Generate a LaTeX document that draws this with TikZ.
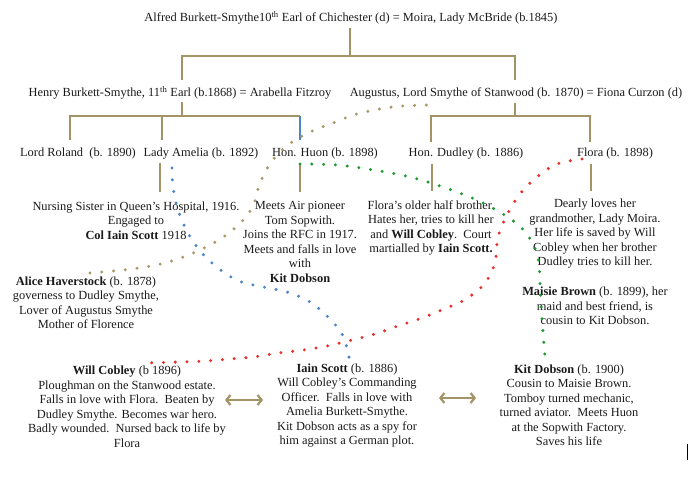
\documentclass[tikz,border=0pt]{standalone}
\usepackage{fontspec}
\setmainfont{Liberation Serif}
\usetikzlibrary{arrows.meta}
\definecolor{treecol}{HTML}{A39467}
\definecolor{olivedot}{HTML}{A8986A}
\definecolor{bluedot}{HTML}{4A86C8}
\definecolor{greendot}{HTML}{1E9A2E}
\definecolor{reddot}{HTML}{E8302A}
\definecolor{txt}{HTML}{1A1A1A}
\tikzset{
  lbl/.style={inner sep=0pt, align=center, text=txt, font=\fontsize{12.4}{14.5}\selectfont},
  tree/.style={draw=treecol, line width=1.8pt},
  dots/.style={line width=3.3pt, line cap=round, dash pattern=on 0pt off 11.8pt},
  dblarrow/.style={draw=treecol, line width=2.2pt, {Straight Barb[length=4pt,width=10pt]}-{Straight Barb[length=4pt,width=10pt]}}
}
\begin{document}
\begin{tikzpicture}[x=1pt,y=-1pt]
\useasboundingbox (0,0) rectangle (699,489);
% texts
\node[lbl] (top) at (351,18) {Alfred Burkett-Smythe10\textsuperscript{th} Earl of Chichester (d) = Moira, Lady McBride (b.1845)};
\node[lbl] (henry) at (180,93) {Henry Burkett-Smythe, 11\textsuperscript{th} Earl (b.1868) = Arabella Fitzroy};
\node[lbl] (augustus) at (516,93) {Augustus, Lord Smythe of Stanwood (b. 1870) = Fiona Curzon (d)};
\node[lbl] (roland) at (78,154) {Lord Roland\ \ (b. 1890)};
\node[lbl] (amelia) at (201,154) {Lady Amelia (b. 1892)};
\node[lbl] (huon) at (325,154) {Hon. Huon (b. 1898)};
\node[lbl] (dudley) at (466,154) {Hon. Dudley (b. 1886)};
\node[lbl] (flora) at (615,154) {Flora (b. 1898)};
\node[lbl] (ameliaD) at (136,220.5) {Nursing Sister in Queen’s Hospital, 1916.\\Engaged to\\\textbf{Col Iain Scott} 1918};
\node[lbl] (huonD) at (300,242) {Meets Air pioneer\\Tom Sopwith.\\Joins the RFC in 1917.\\Meets and falls in love\\with\\\textbf{Kit Dobson}};
\node[lbl] (dudleyD) at (431,228) {Flora’s older half brother.\\Hates her, tries to kill her\\and \textbf{Will Cobley}.\ \ Court\\martialled by \textbf{Iain Scott.}};
\node[lbl] (floraD) at (595,234) {Dearly loves her\\grandmother, Lady Moira.\\Her life is saved by Will\\Cobley when her brother\\Dudley tries to kill her.};
\node[lbl] (maisie) at (595,306) {\textbf{Maisie Brown} (b. 1899), her\\maid and best friend, is\\cousin to Kit Dobson.};
\node[lbl] (alice) at (86,303) {\textbf{Alice Haverstock} (b. 1878)\\governess to Dudley Smythe,\\Lover of Augustus Smythe\\Mother of Florence};
\node[lbl] (will) at (127,407) {\textbf{Will Cobley} (b 1896)\\Ploughman on the Stanwood estate.\\Falls in love with Flora.\ \ Beaten by\\Dudley Smythe. Becomes war hero.\\Badly wounded.\ \ Nursed back to life by\\Flora};
\node[lbl] (iain) at (347,405.5) {\textbf{Iain Scott} (b. 1886)\\Will Cobley’s Commanding\\Officer.\ \ Falls in love with\\Amelia Burkett-Smythe.\\Kit Dobson acts as a spy for\\him against a German plot.};
\node[lbl] (kit) at (569,405.5) {\textbf{Kit Dobson} (b. 1900)\\Cousin to Maisie Brown.\\Tomboy turned mechanic,\\turned aviator.\ \ Meets Huon\\at the Sopwith Factory.\\Saves his life};
% tree coordinates
\coordinate (t0) at (350,28);
\coordinate (t1) at (350,56);
\coordinate (bl) at (182,56);
\coordinate (br) at (515,56);
\coordinate (hl) at (182,80);
\coordinate (ar) at (515,80);
\coordinate (h0) at (182,102);
\coordinate (h1) at (182,116);
\coordinate (a0) at (515,103);
\coordinate (a1) at (515,116);
% upper tree
\draw[tree] (t0) -- (t1);
\draw[tree] (hl) -- (bl) -- (br) -- (ar);
% Henry's children
\draw[tree] (h0) -- (h1);
\draw[tree] (70,140) -- (70,116) -- (300,116);
\draw[tree] (162,116) -- (162,140);
\draw[draw=bluedot, line width=1.6pt] (300,116) -- (300,140);
% Augustus's children
\draw[tree] (a0) -- (a1);
\draw[tree] (431,142) -- (431,116) -- (590,116) -- (590,142);
% short descent lines
\draw[tree] (160,163) -- (160,192);
\draw[tree] (300,163) -- (300,192);
\draw[tree] (432,164) -- (432,191);
\draw[tree] (591,164) -- (591,191);
% dotted relationships
\draw[dots, olivedot] plot[smooth, tension=0.6] coordinates {(90,273) (139,268) (175,260) (210,245) (235,228) (252,208) (260,183) (272,161) (288,145) (310,132) (333,123) (357,114) (392,107) (428,105)};
\draw[dots, bluedot] plot[smooth, tension=0.6] coordinates {(172,168) (173,187) (178,210) (188,233) (201,252) (218,268) (239,281) (263,287) (287,292) (310,302) (329,318) (343,336) (350,362)};
\draw[dots, greendot] plot[smooth, tension=0.6] coordinates {(300,164) (337,165) (374,170) (410,177) (446,188) (481,202) (512,220) (529,237) (538,258) (540,283) (541,305) (543,332) (545,357)};
\draw[dots, reddot] plot[smooth, tension=0.6] coordinates {(582,159) (557,164) (537,177) (520,194) (507,215) (498,237) (495,262) (485,283) (466,299) (444,309) (422,318) (398,326) (375,334) (352,340) (327,346) (303,350) (278,353) (253,357) (229,359) (205,361) (180,362) (143,363)};
% double arrows
\coordinate (w1) at (225,400);
\coordinate (w2) at (263,400);
\coordinate (k1) at (439,398);
\coordinate (k2) at (476,398);
\draw[dblarrow] (w1) -- (w2);
\draw[dblarrow] (k1) -- (k2);
% cursor
\coordinate (c0) at (687,444);
\coordinate (c1) at (687,460);
\draw[black, line width=1pt] (c0) -- (c1);
\end{tikzpicture}
\end{document}
